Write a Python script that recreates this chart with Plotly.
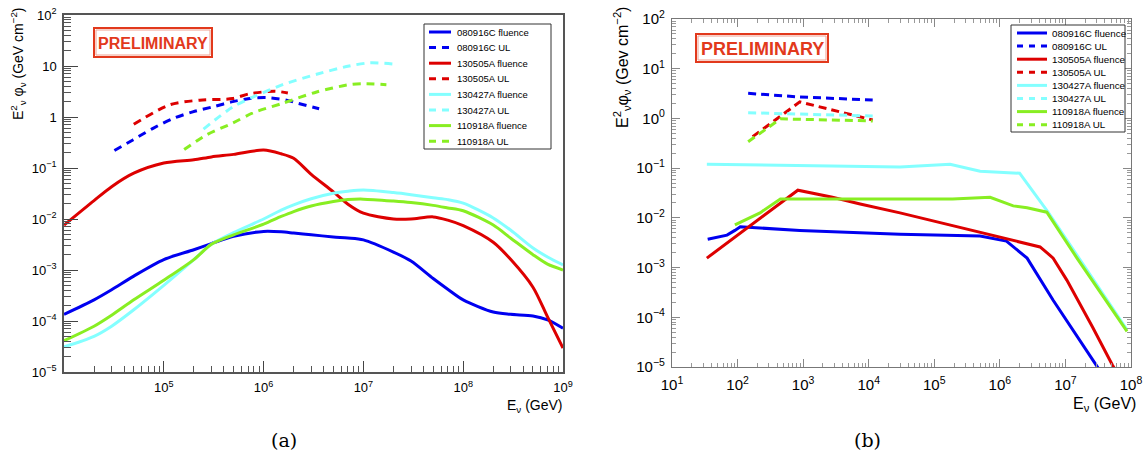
import plotly.graph_objects as go

# ---------------- data : panel (a) ----------------
E_a = [1e4, 2e4, 3e4, 5e4, 1e5, 2e5, 3e5, 5e5, 1e6, 1.5e6, 2e6, 3e6, 5e6, 7e6,
       1e7, 2e7, 3e7, 5e7, 7e7, 1e8, 2e8, 3e8, 5e8, 7e8, 1e9]
a_080916C_fluence = [1.35e-4, 2.6e-4, 4.1e-4, 7.6e-4, 1.6e-3, 2.5e-3, 3.3e-3, 4.6e-3, 5.7e-3,
                     5.6e-3, 5.3e-3, 4.9e-3, 4.45e-3, 4.25e-3, 3.9e-3, 2.25e-3, 1.5e-3,
                     6.8e-4, 4.2e-4, 2.6e-4, 1.5e-4, 1.35e-4, 1.25e-4, 1.05e-4, 7.2e-5]
a_130505A_fluence = [7.6e-3, 2.3e-2, 4.3e-2, 7.9e-2, 0.125, 0.145, 0.165, 0.185, 0.225,
                     0.19, 0.155, 0.075, 0.034, 0.0195, 0.013, 0.010, 0.010, 0.011,
                     0.0095, 0.0074, 0.0035, 1.6e-3, 4.6e-4, 1.2e-4, 2.95e-5]
a_130427A_fluence = [3.1e-5, 5.0e-5, 7.9e-5, 1.66e-4, 5.0e-4, 1.6e-3, 3.2e-3, 5.4e-3, 1.0e-2,
                     1.5e-2, 1.9e-2, 2.5e-2, 3.2e-2, 3.5e-2, 3.7e-2, 3.3e-2, 3.0e-2,
                     2.6e-2, 2.4e-2, 2.05e-2, 1.05e-2, 6.0e-3, 2.7e-3, 1.8e-3, 1.26e-3]
a_110918A_fluence = [4.1e-5, 7.9e-5, 1.3e-4, 2.6e-4, 6.3e-4, 1.6e-3, 3.2e-3, 4.9e-3, 7.9e-3,
                     1.12e-2, 1.4e-2, 1.8e-2, 2.2e-2, 2.4e-2, 2.45e-2, 2.25e-2, 2.1e-2,
                     1.85e-2, 1.65e-2, 1.45e-2, 7.6e-3, 4.2e-3, 2.0e-3, 1.3e-3, 1.0e-3]

a_080916C_UL_E = [3.2e4, 4.9e4, 7.8e4, 1.23e5, 1.95e5, 3.1e5, 4.9e5, 7.8e5, 1.07e6, 1.7e6, 2.2e6, 3.6e6]
a_080916C_UL = [0.22, 0.355, 0.60, 0.93, 1.26, 1.58, 2.0, 2.34, 2.4, 2.14, 1.86, 1.45]
a_130505A_UL_E = [5.0e4, 1.15e5, 2.3e5, 4.9e5, 7.2e5, 1.3e6, 1.75e6]
a_130505A_UL = [0.72, 1.74, 2.14, 2.3, 2.85, 3.2, 2.95]
a_130427A_UL_E = [2.5e5, 4.9e5, 7.8e5, 1.55e6, 3.4e6, 7.2e6, 1.15e7, 1.95e7]
a_130427A_UL = [0.58, 1.57, 2.45, 4.3, 6.9, 10.0, 11.5, 11.0]
a_110918A_UL_E = [1.6e5, 2.7e5, 4.9e5, 7.8e5, 1.55e6, 3.4e6, 7.2e6, 1.0e7, 1.7e7]
a_110918A_UL = [0.23, 0.45, 0.76, 1.2, 1.86, 3.1, 4.3, 4.5, 4.3]

# ---------------- data : panel (b) ----------------
b_080916C_fluence_E = [35, 69, 91, 110, 890, 3.0e4, 5.0e5, 1.26e6, 2.6e6, 6.5e6, 3.0e7, 3.2e7]
b_080916C_fluence = [3.7e-3, 4.5e-3, 5.6e-3, 6.6e-3, 5.6e-3, 4.7e-3, 4.3e-3, 3.4e-3,
                     1.55e-3, 2.2e-4, 1.05e-5, 9.3e-6]
b_130505A_fluence_E = [34, 830, 2.8e3, 7.4e3, 3.0e4, 1.74e5, 1.0e6, 4.1e6, 5.2e6, 6.5e6,
                       1.05e7, 2.6e7, 5.2e7, 5.6e7]
b_130505A_fluence = [1.55e-3, 3.6e-2, 2.6e-2, 1.9e-2, 1.26e-2, 7.2e-3, 4.2e-3, 2.6e-3,
                     2.0e-3, 1.55e-3, 5.6e-4, 6.3e-5, 1.1e-5, 9.3e-6]
b_130427A_fluence_E = [34, 3.0e4, 1.74e5, 5.0e5, 2.0e6, 5.4e6, 8.7e7]
b_130427A_fluence = [0.12, 0.105, 0.12, 0.087, 0.079, 0.0132, 5.6e-5]
b_110918A_fluence_E = [91, 220, 450, 3.0e4, 1.9e5, 7.1e5, 1.6e6, 2.6e6, 5.2e6, 1.5e7, 8.7e7]
b_110918A_fluence = [7.2e-3, 1.26e-2, 2.4e-2, 2.4e-2, 2.4e-2, 2.6e-2, 1.74e-2, 1.6e-2,
                     1.3e-2, 1.55e-3, 5.2e-5]

b_080916C_UL_E = [145, 890, 1.15e4]
b_080916C_UL = [3.2, 2.7, 2.35]
b_130505A_UL_E = [170, 890, 1.15e4]
b_130505A_UL = [0.43, 2.15, 0.93]
b_130427A_UL_E = [145, 1000, 1.15e4]
b_130427A_UL = [1.3, 1.22, 1.12]
b_110918A_UL_E = [145, 450, 1.15e4]
b_110918A_UL = [0.34, 0.98, 0.89]

labels = ["080916C fluence", "080916C UL", "130505A fluence", "130505A UL",
          "130427A fluence", "130427A UL", "110918A fluence", "110918A UL"]

# ---------------- styling ----------------
BLUE = "#0000f0"
RED = "#dd0000"
CYAN = "#84ffff"
GREEN = "#88ee22"
colors = [BLUE, BLUE, RED, RED, CYAN, CYAN, GREEN, GREEN]
W, H = 1145, 457


def px(x):
    return x / W


def py(y):
    return 1 - y / H


fig = go.Figure()

a_series = [(E_a, a_080916C_fluence), (a_080916C_UL_E, a_080916C_UL),
            (E_a, a_130505A_fluence), (a_130505A_UL_E, a_130505A_UL),
            (E_a, a_130427A_fluence), (a_130427A_UL_E, a_130427A_UL),
            (E_a, a_110918A_fluence), (a_110918A_UL_E, a_110918A_UL)]
for i, (xs, ys) in enumerate(a_series):
    dash = "solid" if i % 2 == 0 else "8px,6px"
    fig.add_trace(go.Scatter(x=xs, y=ys, mode="lines", name=labels[i],
                             line=dict(color=colors[i], width=3, dash=dash,
                                       shape="spline", smoothing=0.8),
                             xaxis="x", yaxis="y", showlegend=False))

b_series = [(b_080916C_fluence_E, b_080916C_fluence), (b_080916C_UL_E, b_080916C_UL),
            (b_130505A_fluence_E, b_130505A_fluence), (b_130505A_UL_E, b_130505A_UL),
            (b_130427A_fluence_E, b_130427A_fluence), (b_130427A_UL_E, b_130427A_UL),
            (b_110918A_fluence_E, b_110918A_fluence), (b_110918A_UL_E, b_110918A_UL)]
for i, (xs, ys) in enumerate(b_series):
    dash = "solid" if i % 2 == 0 else "8px,5px"
    fig.add_trace(go.Scatter(x=xs, y=ys, mode="lines", name=labels[i],
                             line=dict(color=colors[i], width=3, dash=dash),
                             xaxis="x2", yaxis="y2", showlegend=False))


def minor_vals(lo, hi):
    return [m * 10.0 ** k for k in range(lo, hi) for m in range(2, 10)]


def sup(e):
    return "10<sup>%s</sup>" % (str(e).replace("-", "\u2212"))


FONT = "Liberation Sans, Arial, sans-serif"

# panel (a) axes
xa_vals = [1e5, 1e6, 1e7, 1e8, 1e9]
xa_text = [sup(5), sup(6), sup(7), sup(8), sup(9)]
ya_vals = [1e-5, 1e-4, 1e-3, 1e-2, 1e-1, 1, 10, 100]
ya_text = [sup(-5), sup(-4), sup(-3), sup(-2), sup(-1), "1", "10", sup(2)]
# panel (b) axes
xb_vals = [10.0 ** k for k in range(1, 9)]
xb_text = [sup(k) for k in range(1, 9)]
yb_vals = [10.0 ** k for k in range(-5, 3)]
yb_text = [sup(k) for k in range(-5, 3)]

fig.update_layout(
    width=W, height=H, margin=dict(l=0, r=0, t=0, b=0, autoexpand=False),
    paper_bgcolor="white", plot_bgcolor="white",
    font=dict(family=FONT, color="black"),
    xaxis=dict(domain=[px(64), px(563)], type="log", range=[4, 9], anchor="y",
               automargin=False,
               tickmode="array", tickvals=xa_vals, ticktext=xa_text,
               ticks="inside", ticklen=11, tickwidth=1, tickcolor="#444",
               minor=dict(tickmode="array", tickvals=minor_vals(4, 9), ticks="inside",
                          ticklen=6, tickwidth=1, tickcolor="#555", showgrid=False),
               showline=True, linecolor="#555", linewidth=1.5, mirror=True,
               showgrid=False, zeroline=False, tickfont=dict(size=13, family=FONT),
               ticklabelstandoff=3),
    yaxis=dict(domain=[py(372), py(15)], type="log", range=[-5, 2], anchor="x",
               automargin=False,
               tickmode="array", tickvals=ya_vals, ticktext=ya_text,
               ticks="inside", ticklen=14, tickwidth=1, tickcolor="#444",
               minor=dict(tickmode="array", tickvals=minor_vals(-5, 2), ticks="inside",
                          ticklen=7, tickwidth=1, tickcolor="#555", showgrid=False),
               showline=True, linecolor="#555", linewidth=1.5, mirror=True,
               showgrid=False, zeroline=False, tickfont=dict(size=13, family=FONT),
               ticklabelstandoff=3),
    xaxis2=dict(domain=[px(672), px(1131)], type="log", range=[1, 8], anchor="y2",
                automargin=False,
                tickmode="array", tickvals=xb_vals, ticktext=xb_text,
                ticks="inside", ticklen=8, tickwidth=1, tickcolor="#888",
                minor=dict(tickmode="array", tickvals=minor_vals(1, 8), ticks="inside",
                           ticklen=4, tickwidth=1, tickcolor="#999", showgrid=False),
                showline=True, linecolor="#777", linewidth=1.2, mirror="ticks",
                showgrid=False, zeroline=False, tickfont=dict(size=15, family=FONT),
                ticklabelstandoff=4),
    yaxis2=dict(domain=[py(367), py(19)], type="log", range=[-5, 2], anchor="x2",
                automargin=False,
                tickmode="array", tickvals=yb_vals, ticktext=yb_text,
                ticks="inside", ticklen=8, tickwidth=1, tickcolor="#888",
                minor=dict(tickmode="array", tickvals=minor_vals(-5, 2), ticks="inside",
                           ticklen=4, tickwidth=1, tickcolor="#999", showgrid=False),
                showline=True, linecolor="#777", linewidth=1.2, mirror="ticks",
                showgrid=False, zeroline=False, tickfont=dict(size=15, family=FONT),
                ticklabelstandoff=3),
)

shapes = []
annotations = []

# axis titles
annotations.append(dict(x=px(18), y=py(64), xref="paper", yref="paper", textangle=-90,
                        text="E<sup>2</sup><sub>\u03bd</sub> \u03c6<sub>\u03bd</sub> (GeV cm<sup>\u22122</sup>)",
                        showarrow=False, xanchor="center", yanchor="middle",
                        font=dict(size=14, family=FONT)))
annotations.append(dict(x=px(622), y=py(68), xref="paper", yref="paper", textangle=-90,
                        text="E<sup>2</sup><sub>\u03bd</sub>\u03c6<sub>\u03bd</sub> (Gev cm<sup>\u22122</sup>)",
                        showarrow=False, xanchor="center", yanchor="middle",
                        font=dict(size=16, family=FONT)))
annotations.append(dict(x=px(564), y=py(395), xref="paper", yref="paper",
                        text="E<sub>\u03bd</sub> (GeV)", showarrow=False,
                        xanchor="right", yanchor="top", font=dict(size=14, family=FONT)))
annotations.append(dict(x=px(1138), y=py(393), xref="paper", yref="paper",
                        text="E<sub>\u03bd</sub> (GeV)", showarrow=False,
                        xanchor="right", yanchor="top", font=dict(size=16, family=FONT)))
# captions
for txt, cx in (("(a)", 284), ("(b)", 867)):
    annotations.append(dict(x=px(cx), y=py(440), xref="paper", yref="paper", text=txt,
                            showarrow=False, xanchor="center", yanchor="middle",
                            font=dict(size=19, family="DejaVu Serif, Liberation Serif, serif")))

# PRELIMINARY stamps
PRED = "#e2391c"
for (x0, y0, x1, y1, fs) in ((94, 28, 212, 57, 16), (696, 34, 828, 62, 18)):
    shapes.append(dict(type="rect", xref="paper", yref="paper",
                       x0=px(x0), x1=px(x1), y0=py(y1), y1=py(y0),
                       line=dict(color=PRED, width=2), fillcolor="white"))
    shapes.append(dict(type="rect", xref="paper", yref="paper",
                       x0=px(x0 + 2), x1=px(x1 - 2), y0=py(y1 - 2), y1=py(y0 + 2),
                       line=dict(color="#f0a090", width=1)))
    annotations.append(dict(x=px((x0 + x1) / 2), y=py((y0 + y1) / 2 + 1), xref="paper",
                            yref="paper", text="<b>PRELIMINARY</b>", showarrow=False,
                            xanchor="center", yanchor="middle",
                            font=dict(size=fs, family=FONT, color=PRED)))

# manual legends
legends = [
    dict(box=(424, 24, 551, 149), y0=32, dy=15.6, lx=(429, 451), tx=455, fs=9.5, dash="7px,6px"),
    dict(box=(1011, 25, 1125, 132), y0=33, dy=13.1, lx=(1017, 1047), tx=1050, fs=9.8, dash="6px,6px"),
]
for lg in legends:
    bx0, by0, bx1, by1 = lg["box"]
    shapes.append(dict(type="rect", xref="paper", yref="paper",
                       x0=px(bx0), x1=px(bx1), y0=py(by1), y1=py(by0),
                       line=dict(color="#333", width=1), fillcolor="white"))
    for i, lab in enumerate(labels):
        yy = lg["y0"] + i * lg["dy"]
        shapes.append(dict(type="line", xref="paper", yref="paper",
                           x0=px(lg["lx"][0]), x1=px(lg["lx"][1]), y0=py(yy), y1=py(yy),
                           line=dict(color=colors[i], width=3,
                                     dash="solid" if i % 2 == 0 else lg["dash"])))
        annotations.append(dict(x=px(lg["tx"]), y=py(yy), xref="paper", yref="paper",
                                text=lab, showarrow=False, xanchor="left", yanchor="middle",
                                font=dict(size=lg["fs"], family=FONT, color="black")))

fig.update_layout(shapes=shapes, annotations=annotations)
fig.write_html("out.html", config={"displayModeBar": False},
               post_script="document.body.style.margin='0px';document.body.style.overflow='hidden';")
